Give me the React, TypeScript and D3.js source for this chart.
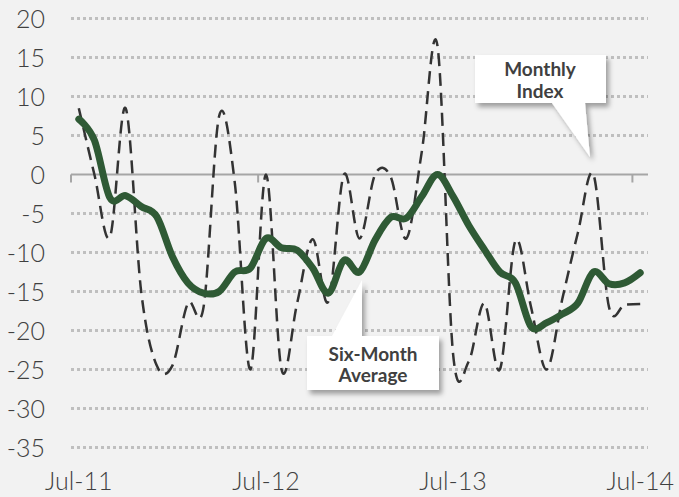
import React from 'react';
import * as d3 from 'd3';

const W = 679;
const H = 497;

// months Jul-11 .. Jul-14
const months = d3.timeMonth.range(new Date(2011, 6, 1), new Date(2014, 7, 1));

const monthlyIndex = [
  8.5, 0, -8, 8.5, -15, -24.5, -24.5, -16.5, -17, 7.5, -1, -25,
  0, -25, -16.5, -8.3, -16.3, 0, -8.2, 0, -0.3, -8.2, 3, 16.5,
  -23, -24, -16.5, -25, -8.5, -17, -25, -16, -7.5, 0, -17, -16.7, -16.6,
];

const sixMonthAvg = [
  7.1, 4.4, -3.0, -2.7, -4.1, -5.4, -10.5, -13.9, -15.2, -15.0, -12.5, -12.0,
  -8.2, -9.4, -9.7, -12, -15.2, -11, -12.5, -8.4, -5.5, -5.6, -2.8, 0,
  -2.8, -6.5, -9.6, -12.5, -13.9, -19.5, -19.0, -17.9, -16.5, -12.5, -14.0, -13.9, -12.6,
];

const yTicks = [20, 15, 10, 5, 0, -5, -10, -15, -20, -25, -30, -35];
const xTickLabels = ['Jul-11', 'Jul-12', 'Jul-13', 'Jul-14'];

const FONT = 'Lato, "DejaVu Sans", sans-serif';
const TEXT = '#404040';

export default function App() {
  const x = d3.scaleBand<Date>().domain(months).range([71, 648]).padding(0);
  const y = d3.scaleLinear().domain([-35, 20]).range([447.5, 18.5]);
  const cx = (d: Date) => (x(d) as number) + x.bandwidth() / 2;

  const line = d3.line<number>()
    .x((_, i) => cx(months[i]))
    .y(d => y(d))
    .curve(d3.curveCatmullRom.alpha(0));

  const julMonths = months.filter(m => m.getMonth() === 6);
  const fmt = d3.timeFormat('%b-%y');

  return (
    <div style={{ position: 'absolute', left: 0, top: 0 }}>
      <svg width={W} height={H} style={{ display: 'block', background: '#f2f2f2' }}>
        <defs>
          <filter id="shadow" x="-20%" y="-20%" width="150%" height="160%">
            <feDropShadow dx="3" dy="4" stdDeviation="2.5" floodColor="#000" floodOpacity="0.35" />
          </filter>
        </defs>

        {/* gridlines */}
        {yTicks.filter(t => t !== 0).map(t => (
          <line key={t} x1={71} x2={648} y1={y(t)} y2={y(t)}
            stroke="#bfbfbf" strokeWidth={3} strokeDasharray="3,3" />
        ))}

        {/* zero axis + ticks */}
        <line x1={71} x2={648} y1={y(0)} y2={y(0)} stroke="#a6a6a6" strokeWidth={2} />
        {julMonths.map(m => (
          <line key={+m} x1={x(m)} x2={x(m)} y1={y(0)} y2={y(0) + 8} stroke="#a6a6a6" strokeWidth={2} />
        ))}

        {/* y labels */}
        {yTicks.map(t => (
          <text key={t} x={45} y={y(t)} dy="0.36em" textAnchor="end"
            fontFamily={FONT} fontWeight={300} fontSize={25} fill={TEXT}>{t}</text>
        ))}

        {/* x labels */}
        {julMonths.map((m, i) => (
          <text key={+m} x={cx(m)} y={490} textAnchor="middle"
            fontFamily={FONT} fontWeight={300} fontSize={25} fill={TEXT}>{xTickLabels[i] || fmt(m)}</text>
        ))}

        {/* monthly index */}
        <path d={line(monthlyIndex) || ''} fill="none" stroke="#333" strokeWidth={2.5}
          strokeDasharray="13,7" />

        {/* six month average */}
        <path d={line(sixMonthAvg) || ''} fill="none" stroke="#2f5a35" strokeWidth={7}
          strokeLinejoin="round" strokeLinecap="round" />

        {/* callouts */}
        <g filter="url(#shadow)">
          <path d="M475,55 H606 V103 H585 L590,157 L552,103 H475 Z" fill="#fff" />
          <path d="M307,336 H332 L362,280 V336 H439 V390 H307 Z" fill="#fff" />
        </g>
        <g fontFamily={FONT} fontWeight={700} fontSize={19} fill={TEXT} textAnchor="middle">
          <text x={540} y={76}>Monthly</text>
          <text x={540} y={98}>Index</text>
          <text x={373} y={361}>Six-Month</text>
          <text x={373} y={382}>Average</text>
        </g>
      </svg>
    </div>
  );
}
